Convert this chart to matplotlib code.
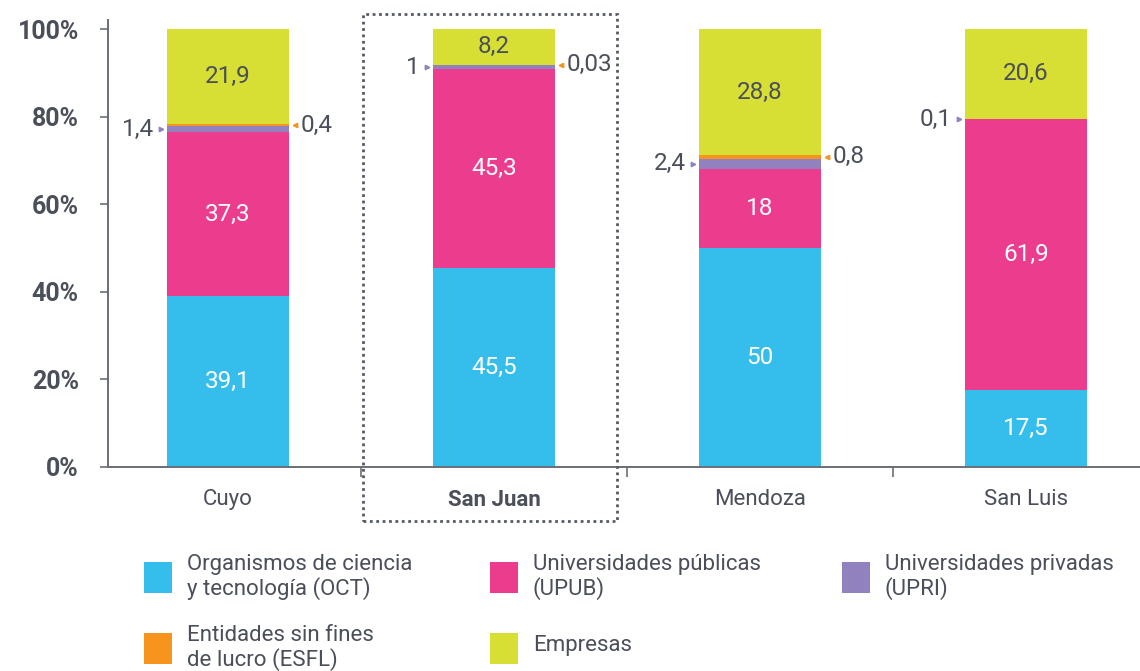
import matplotlib
matplotlib.use("Agg")
import matplotlib.pyplot as plt
from matplotlib.patches import Rectangle
import numpy as np

plt.rcParams['font.family'] = ['Roboto', 'DejaVu Sans']

categories = ["Cuyo", "San Juan", "Mendoza", "San Luis"]
oct_vals = [39.1, 45.5, 50.0, 17.5]
upub_vals = [37.3, 45.3, 18.0, 61.9]
upri_vals = [1.4, 1.0, 2.4, 0.1]
esfl_vals = [0.4, 0.03, 0.8, 0.0]
emp_vals = [21.9, 8.2, 28.8, 20.6]

series_names = ["Organismos de ciencia\ny tecnología (OCT)",
                "Universidades públicas\n(UPUB)",
                "Universidades privadas\n(UPRI)",
                "Entidades sin fines\nde lucro (ESFL)",
                "Empresas"]
colors = ["#35BEEC", "#EC3C8E", "#9181BE", "#F7941D", "#D7DF35"]
yticks = [0, 20, 40, 60, 80, 100]
ytick_labels = ["0%", "20%", "40%", "60%", "80%", "100%"]

TXT = "#4a4f5a"
W, H = 1140, 671
fig = plt.figure(figsize=(W / 100, H / 100), dpi=100)

ax_left, ax_right = 108, 1140
ax_bottom_px, ax_top_px = 467, 20
ax = fig.add_axes([ax_left / W, (H - ax_bottom_px) / H,
                   (ax_right - ax_left) / W, (ax_bottom_px - ax_top_px) / H])

x = np.arange(len(categories))
px_per_unit = 266.0
bar_w = 122 / px_per_unit
ax.set_xlim((108 - 228) / px_per_unit, (1140 - 228) / px_per_unit)
ax.set_ylim(0, 100 * (ax_bottom_px - ax_top_px) / (467 - 29))

series = [oct_vals, upub_vals, upri_vals, esfl_vals, emp_vals]
bottom = np.zeros(len(categories))
bottoms = []
for vals, c in zip(series, colors):
    v = np.array(vals)
    ax.bar(x, v, bar_w, bottom=bottom, color=c, linewidth=0, zorder=2)
    bottoms.append(bottom.copy())
    bottom = bottom + v

def fmt(v):
    return f"{v:g}".replace('.', ',')

fs_val = 17.5
for i in range(len(categories)):
    for si, col in [(0, "white"), (1, "white"), (4, TXT)]:
        v = series[si][i]
        ax.text(x[i], bottoms[si][i] + v / 2, fmt(v), ha='center', va='center',
                color=col, fontsize=fs_val, zorder=3)
    v = upri_vals[i]
    if v > 0:
        yc = bottoms[2][i] + v / 2
        xl = x[i] - bar_w / 2
        ax.plot(xl - 6 / px_per_unit, yc, marker='>', color=colors[2],
                markersize=3.2, linestyle='none', zorder=3, clip_on=False)
        ax.text(xl - 13 / px_per_unit, yc, fmt(v), ha='right', va='center',
                color=TXT, fontsize=fs_val, zorder=3)
    v = esfl_vals[i]
    if v > 0:
        yc = bottoms[3][i] + v / 2
        xr = x[i] + bar_w / 2
        ax.plot(xr + 6 / px_per_unit, yc, marker='<', color=colors[3],
                markersize=3.2, linestyle='none', zorder=3, clip_on=False)
        ax.text(xr + 12 / px_per_unit, yc, fmt(v), ha='left', va='center',
                color=TXT, fontsize=fs_val, zorder=3)

for s in ['top', 'right']:
    ax.spines[s].set_visible(False)
for s in ['left', 'bottom']:
    ax.spines[s].set_color("#6b6e75")
    ax.spines[s].set_linewidth(1.4)

ax.set_yticks(yticks)
ax.set_yticklabels(ytick_labels, fontsize=18, fontweight='bold', color=TXT)
ax.tick_params(axis='y', length=6, width=1.2, color="#6b6e75", pad=15)

boundaries = list(x[:-1] + 0.5)
ax.set_xticks(boundaries)
ax.set_xticklabels([])
ax.tick_params(axis='x', which='major', length=7, width=1.2, color="#6b6e75")
ax.set_xticks(x, minor=True)
ax.set_xticklabels(categories, minor=True, fontsize=16, color=TXT)
ax.tick_params(axis='x', which='minor', length=0, pad=16)
for lab in ax.get_xticklabels(minor=True):
    if lab.get_text() == "San Juan":
        lab.set_fontweight('bold')

fig.patches.append(Rectangle((363 / W, (H - 521) / H), (617 - 363) / W, (521 - 14) / H,
                             transform=fig.transFigure, fill=False,
                             edgecolor="#555a63", linestyle=(0, (1, 1.3)), linewidth=2.0,
                             zorder=5))

legend_items = [
    (0, 144, 562, 577),
    (1, 490, 562, 577),
    (2, 842, 562, 577),
    (3, 144, 633, 648),
    (4, 490, 633, 645),
]
for si, lx, ty, tc in legend_items:
    fig.patches.append(Rectangle((lx / W, (H - ty - 31) / H), 28 / W, 31 / H,
                                 transform=fig.transFigure, color=colors[si], linewidth=0))
    fig.text((lx + 43) / W, (H - tc) / H, series_names[si], ha='left', va='center',
             fontsize=16, color=TXT, linespacing=1.15)

fig.savefig("out.png", dpi=100)
